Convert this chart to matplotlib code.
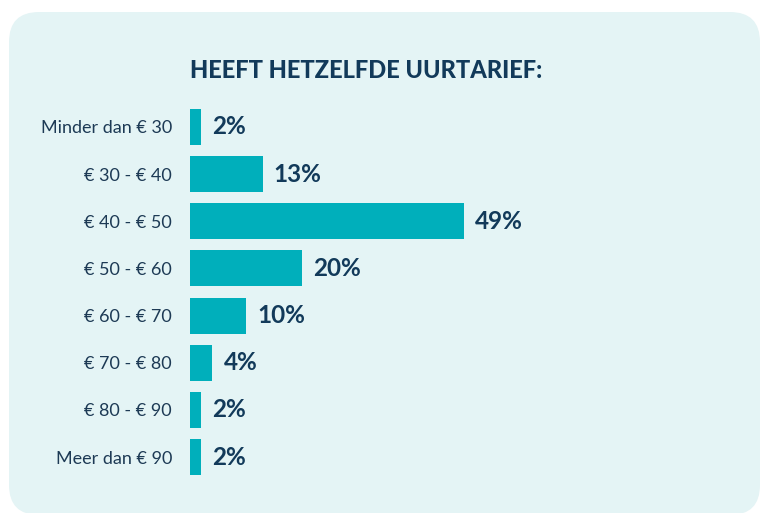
import matplotlib
matplotlib.use("Agg")
import matplotlib.pyplot as plt
from matplotlib.patches import FancyBboxPatch

categories = ["Minder dan € 30", "€ 30 - € 40", "€ 40 - € 50", "€ 50 - € 60",
              "€ 60 - € 70", "€ 70 - € 80", "€ 80 - € 90", "Meer dan € 90"]
values = [2, 13, 49, 20, 10, 4, 2, 2]
title = "HEEFT HETZELFDE UURTARIEF:"

W, H = 760, 513
fig = plt.figure(figsize=(W / 100, H / 100), dpi=100)
fig.patch.set_facecolor("white")

# background panel
bg = fig.add_axes([0, 0, 1, 1])
bg.set_xlim(0, W)
bg.set_ylim(H, 0)
bg.axis("off")
panel = FancyBboxPatch((9, 12), W - 9, H - 12 + 2,
                       boxstyle="round,pad=0,rounding_size=30",
                       facecolor="#e4f4f5", edgecolor="none")
bg.add_patch(panel)
bg.text(366, 70, title, ha="center", va="center", fontsize=17,
        fontweight="black", family="Lato", color="#123a5a")

# bar axes
left_px, right_px = 190, 749
top_px, bot_px = 103.4, 480.6
ax = fig.add_axes([left_px / W, 1 - bot_px / H, (right_px - left_px) / W,
                   (bot_px - top_px) / H])
ax.set_facecolor("none")
ypos = list(range(len(categories)))
ax.barh(ypos, values, height=0.765, color="#00afbb")
ax.set_xlim(0, 100)
ax.set_ylim(len(categories) - 0.5, -0.5)
for y, v in zip(ypos, values):
    ax.text(v + 2.0, y, f"{v}%", va="center", ha="left", fontsize=17.5,
            fontweight="bold", family="Lato", color="#123a5a")
ax.set_yticks(ypos)
ax.set_yticklabels(categories, fontsize=13, family="Lato", color="#1d3a55")
ax.tick_params(axis="y", length=0, pad=13)
ax.set_xticks([])
for s in ax.spines.values():
    s.set_visible(False)

fig.savefig("out.png", dpi=100)
